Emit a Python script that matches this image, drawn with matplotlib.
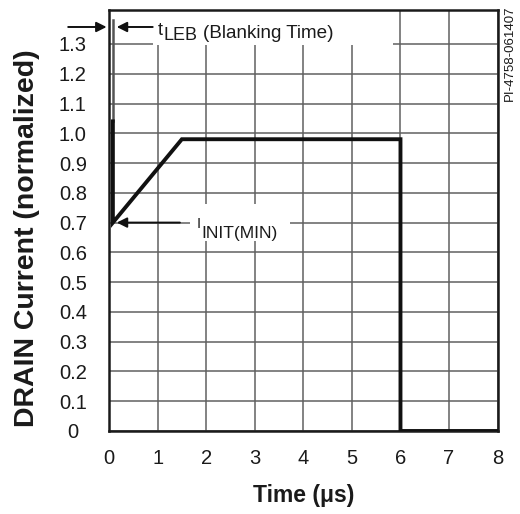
import numpy as np
import matplotlib.pyplot as plt
from matplotlib.patches import Rectangle

plt.rcParams['font.family'] = ['Liberation Sans', 'DejaVu Sans']

# drain current waveform (normalized) vs time in us
t_us = [0.08, 0.08, 1.5, 6.0, 6.0, 8.0]
i_norm = [1.04, 0.70, 0.98, 0.98, 0.0, 0.0]
# leading edge spike during blanking
spike_t = [0.08, 0.08]
spike_i = [1.04, 1.38]

x_ticks = [0, 1, 2, 3, 4, 5, 6, 7, 8]
y_ticks = [0, 0.1, 0.2, 0.3, 0.4, 0.5, 0.6, 0.7, 0.8, 0.9, 1.0, 1.1, 1.2, 1.3]
y_labels = ['0', '0.1', '0.2', '0.3', '0.4', '0.5', '0.6', '0.7', '0.8', '0.9',
            '1.0', '1.1', '1.2', '1.3']

ink = '#1a1a1a'

fig = plt.figure(figsize=(5.2, 5.14), dpi=100)
ax = fig.add_axes([0.2096, 0.1615, 0.7474, 0.819])

ax.set_xlim(0, 8)
ax.set_ylim(0, 1.414)
ax.set_xticks(x_ticks)
ax.set_yticks(y_ticks)
ax.set_yticklabels(y_labels, ha='center')
ax.tick_params(axis='x', length=0, pad=13, labelsize=14.5, colors=ink)
ax.tick_params(axis='y', length=0, pad=26, labelsize=14.5, colors=ink)
ax.grid(True, color='#606060', lw=1.1)
ax.set_axisbelow(True)
for s in ax.spines.values():
    s.set_linewidth(1.8)
    s.set_color(ink)

# white patches behind the two labels
ax.add_patch(Rectangle((0.9, 1.297), 4.95, 0.2, fc='white', ec='none', zorder=1.5))
ax.add_patch(Rectangle((1.667, 0.637), 2.06, 0.127, fc='white', ec='none', zorder=1.5))

ax.plot(spike_t, spike_i, color='#555555', lw=1.8, zorder=3)
ax.plot(t_us, i_norm, color='#111111', lw=2.8, solid_joinstyle='miter', zorder=4)

# arrows
arr = dict(arrowstyle='-|>', color='#111111', lw=1.4, mutation_scale=15, shrinkA=0, shrinkB=0)
ax.annotate('', xy=(-0.05, 1.357), xytext=(-0.84, 1.357), arrowprops=arr,
            annotation_clip=False, zorder=5)
ax.annotate('', xy=(0.16, 1.357), xytext=(0.9, 1.357), arrowprops=arr, zorder=5)
ax.annotate('', xy=(0.16, 0.70), xytext=(1.46, 0.70), arrowprops=arr, zorder=5)

# t_LEB (Blanking Time)
ax.text(1.008, 1.330, 't', fontsize=13, va='baseline', ha='left', color=ink, zorder=5)
ax.text(1.13, 1.313, 'LEB', fontsize=13, va='baseline', ha='left', color=ink, zorder=5)
ax.text(1.935, 1.321, '(Blanking Time)', fontsize=13.6, va='baseline', ha='left',
        color=ink, zorder=5)

# I_INIT(MIN)
ax.text(1.805, 0.682, 'I', fontsize=10.5, va='baseline', ha='left', color=ink, zorder=5)
ax.text(1.906, 0.647, 'INIT(MIN)', fontsize=12.5, va='baseline', ha='left', color=ink,
        zorder=5)

ax.set_xlabel('Time (μs)', fontsize=16.5, fontweight='bold', color=ink)
ax.xaxis.set_label_coords(0.5, -0.127)
ax.set_ylabel('DRAIN Current (normalized)', fontsize=20.5, fontweight='bold', color=ink)
ax.yaxis.set_label_coords(-0.178, 0.457)

fig.text(0.981, 0.99, 'PI-4758-061407', rotation=90, fontsize=9.5, ha='center', va='top',
         color=ink)

fig.savefig('out.png', dpi=100)
